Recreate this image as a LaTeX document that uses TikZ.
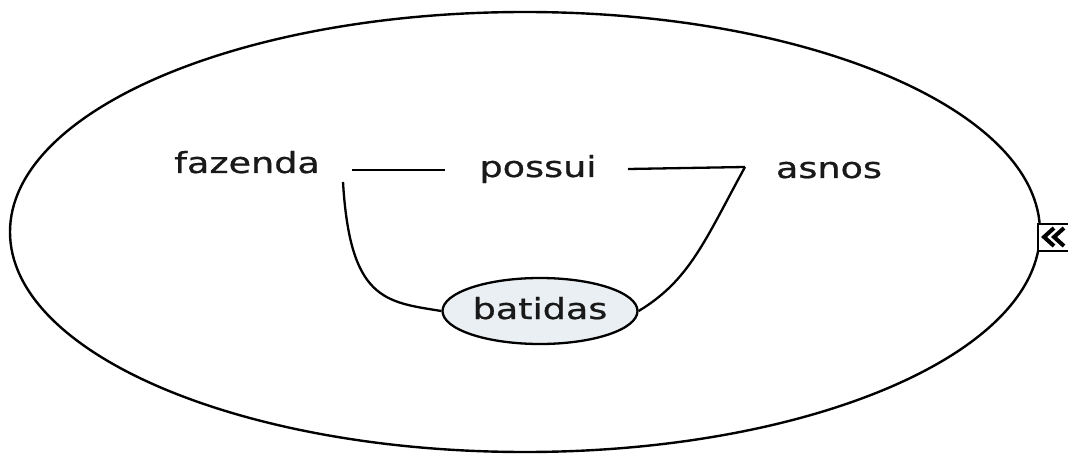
\documentclass[tikz,border=0pt]{standalone}
\usepackage{fontspec}
\setmainfont{DejaVu Sans}
\newfontfamily\lblfont{DejaVu Sans}[FakeBold=0.7]
\usetikzlibrary{shapes.geometric}
\definecolor{conceptfill}{RGB}{233,239,242}
\newcommand{\wtxt}[1]{\scalebox{1.26}[1]{#1}}
\begin{document}
\begin{tikzpicture}[x=1pt,y=-1pt,
  lbl/.style={font=\lblfont\fontsize{29}{32}\selectfont, inner sep=0pt, text=black!90, anchor=base},
  conn/.style={line width=2.3pt, black},
  concept/.style={ellipse, draw, line width=2.3pt, fill=conceptfill, minimum width=195pt, minimum height=66pt, inner sep=0pt}]
\useasboundingbox (0,0) rectangle (1068,457);
\draw[line width=2.4pt] (525,232) ellipse [x radius=515, y radius=220];
\node[lbl] (fazenda) at (247,173) {\wtxt{fazenda}};
\node[lbl] (possui) at (538,177) {\wtxt{possui}};
\node[lbl] (asnos) at (829,178) {\wtxt{asnos}};
\node[concept] (batidas) at (540,311) {};
\node[lbl] (batidastxt) at (batidas.center |- 0,319) {\wtxt{batidas}};
\coordinate (fz) at (343,182);
\coordinate (fe) at (352,170);
\coordinate (pw) at (445,170);
\coordinate (pe) at (628,169);
\coordinate (k) at (745,167);
\draw[conn] (fe) -- (pw);
\draw[conn] (pe) -- (k);
\draw[conn] (k) .. controls (705,240) and (690,280) .. (batidas.east);
\draw[conn] (fz) .. controls (350,300) and (385,302) .. (batidas.west);
\begin{scope}
\clip (0,0) rectangle (1068,457);
\node[draw, line width=2.3pt, fill=white, minimum width=40pt, minimum height=27pt, anchor=north west, inner sep=0pt] (icon) at (1037,223) {};
\draw[line width=4pt, line cap=butt, line join=miter] (1054,228) -- (1044,237) -- (1054,246);
\draw[line width=4pt, line cap=butt, line join=miter] (1064,228) -- (1054,237) -- (1064,246);
\end{scope}
\end{tikzpicture}
\end{document}
